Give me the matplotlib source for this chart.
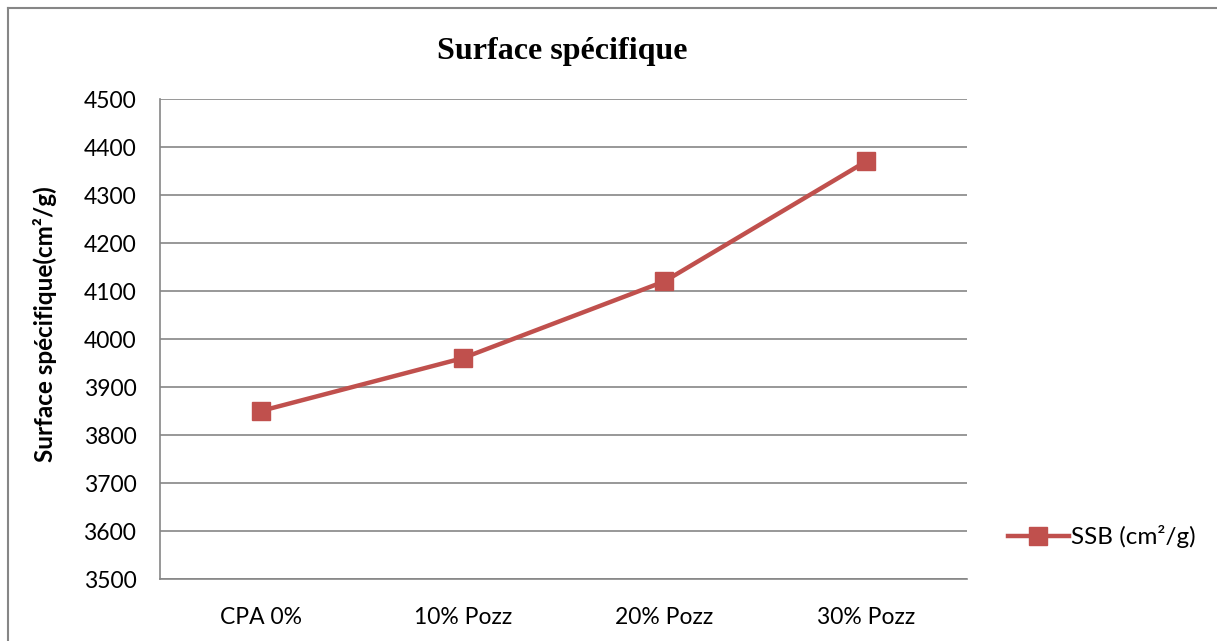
import matplotlib.pyplot as plt
from matplotlib.lines import Line2D

# chart data
categories = ['CPA 0%', '10% Pozz', '20% Pozz', '30% Pozz']
ssb = [3850, 3960, 4120, 4370]
yticks = list(range(3500, 4600, 100))

red = '#C0504D'
grey = '#868686'

fig = plt.figure(figsize=(12.17, 6.41), dpi=100)
ax = fig.add_axes([160/1217, 1-579/641, 807/1217, 480/641])

x = range(len(categories))
ax.plot(x, ssb, color=red, linewidth=3.2, marker='s', markersize=13,
        label='SSB (cm²/g)', zorder=3)

ax.set_xlim(-0.5, len(categories)-0.5)
ax.set_ylim(3500, 4500)
ax.set_yticks(yticks)
ax.set_xticks(list(x))
ax.set_xticklabels(categories)
ax.grid(axis='y', color=grey, linewidth=1.2)
ax.tick_params(length=0, labelsize=16.5)
ax.tick_params(axis='y', pad=17)
ax.tick_params(axis='x', pad=20)
for lab in ax.get_xticklabels() + ax.get_yticklabels():
    lab.set_family('Lato')
for s in ['top', 'right']:
    ax.spines[s].set_visible(False)
for s in ['left', 'bottom']:
    ax.spines[s].set_color(grey)
    ax.spines[s].set_linewidth(1.2)

ax.set_ylabel('Surface spécifique(cm²/g)', fontsize=17.5, fontweight='bold',
              family='Lato', va='center')
ax.yaxis.set_label_coords(-0.1425, 0.53)
fig.text(562/1217, 1-52/641, 'Surface spécifique', ha='center', va='center',
         fontsize=23, fontweight='bold', family='Liberation Serif')

handle = Line2D([], [], color=red, linewidth=3.2, marker='s', markersize=13)
fig.legend([handle], ['SSB (cm²/g)'], loc='center left',
           bbox_to_anchor=(1008/1217, 1-537/641), frameon=False,
           prop={'family': 'Lato', 'size': 17.5}, handlelength=2.5,
           handletextpad=0.1, borderaxespad=0, borderpad=0)

# outer border (top and left visible)
fig.add_artist(Line2D([8/1217, 1], [1-8/641, 1-8/641], color=grey, linewidth=1.5))
fig.add_artist(Line2D([8/1217, 8/1217], [0, 1-8/641], color=grey, linewidth=1.5))

fig.savefig('out.png', dpi=100)
